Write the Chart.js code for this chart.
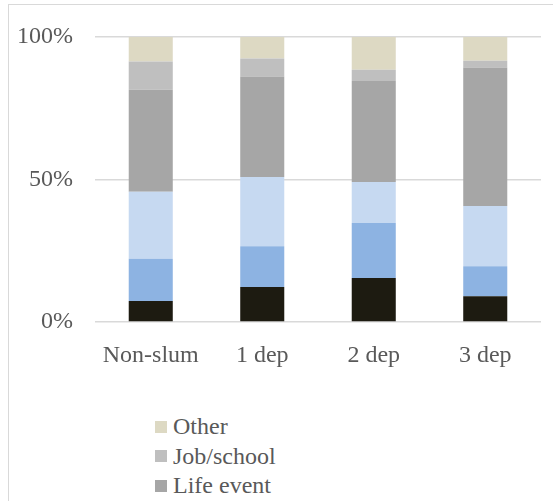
<!DOCTYPE html>
<html>
<head>
<meta charset="utf-8">
<script src="https://cdn.jsdelivr.net/npm/chart.js@4"></script>
<style>
    html, body { margin: 0; padding: 0; overflow: hidden; background: #fff; }
    #frame {
        position: absolute; left: 8px; top: 4px;
        width: 700px; height: 700px;
        border: 1px solid #d9d9d9;
    }
    #wrap { position: absolute; left: 0; top: 0; width: 553px; height: 400px; }
    #legend {
        position: absolute; left: 155px; top: 412px;
        font-family: "Liberation Serif", serif; font-size: 24px; color: #595959;
    }
    .item { display: flex; align-items: center; height: 29.5px; line-height: 29.5px; }
    .swatch { width: 12px; height: 12px; margin-right: 6px; }
</style>
</head>
<body>
<div id="frame"></div>
<div id="wrap"><canvas id="moveChart"></canvas></div>
<div id="legend"></div>
<script>
const categories = ['Non-slum', '1 dep', '2 dep', '3 dep'];

// shares in percent, stacked bottom to top
const eviction   = [7.4, 12.3, 15.4, 9.0];
const cost       = [14.8, 14.3, 19.3, 10.6];
const housing    = [23.5, 24.3, 14.4, 21.1];
const lifeEvent  = [35.8, 35.2, 35.5, 48.6];
const jobSchool  = [9.9, 6.4, 3.9, 2.4];
const other      = [8.6, 7.5, 11.5, 8.3];

const yTicks = [0, 50, 100];

const textColor = '#595959';
const font = { family: '"Liberation Serif", serif', size: 24 };

const ctx = document.getElementById('moveChart').getContext('2d');

const chart = new Chart(ctx, {
    type: 'bar',
    data: {
        labels: categories,
        datasets: [
            { label: 'Eviction', data: eviction, backgroundColor: '#1d1b11' },
            { label: 'Cost', data: cost, backgroundColor: '#8db3e2' },
            { label: 'Housing', data: housing, backgroundColor: '#c6d9f1' },
            { label: 'Life event', data: lifeEvent, backgroundColor: '#a6a6a6' },
            { label: 'Job/school', data: jobSchool, backgroundColor: '#bfbfbf' },
            { label: 'Other', data: other, backgroundColor: '#ddd9c3' }
        ]
    },
    options: {
        responsive: true,
        maintainAspectRatio: false,
        animation: false,
        layout: { padding: { top: 37, right: 12, bottom: 18, left: 0 } },
        datasets: {
            bar: { categoryPercentage: 1, barPercentage: 0.395, borderWidth: 0 }
        },
        plugins: {
            legend: { display: false },
            tooltip: { enabled: false }
        },
        scales: {
            x: {
                stacked: true,
                grid: { display: false, drawTicks: false },
                border: { display: false },
                ticks: { color: textColor, font: font, padding: 19, maxRotation: 0 },
                afterFit: scale => { scale.height = 60; }
            },
            y: {
                stacked: true,
                min: 0,
                max: 100,
                afterBuildTicks: scale => { scale.ticks = yTicks.map(v => ({ value: v })); },
                grid: { color: '#d9d9d9', lineWidth: 1.5, drawTicks: false },
                border: { display: false },
                ticks: {
                    color: textColor,
                    font: font,
                    padding: 22,
                    callback: v => v + '%'
                },
                afterFit: scale => { scale.width = 95; }
            }
        }
    }
});

// legend lists the series top of stack first
const legendEl = document.getElementById('legend');
chart.data.datasets.slice().reverse().forEach(ds => {
    const row = document.createElement('div');
    row.className = 'item';
    const sw = document.createElement('span');
    sw.className = 'swatch';
    sw.style.background = ds.backgroundColor;
    const label = document.createElement('span');
    label.textContent = ds.label;
    row.appendChild(sw);
    row.appendChild(label);
    legendEl.appendChild(row);
});
</script>
</body>
</html>
